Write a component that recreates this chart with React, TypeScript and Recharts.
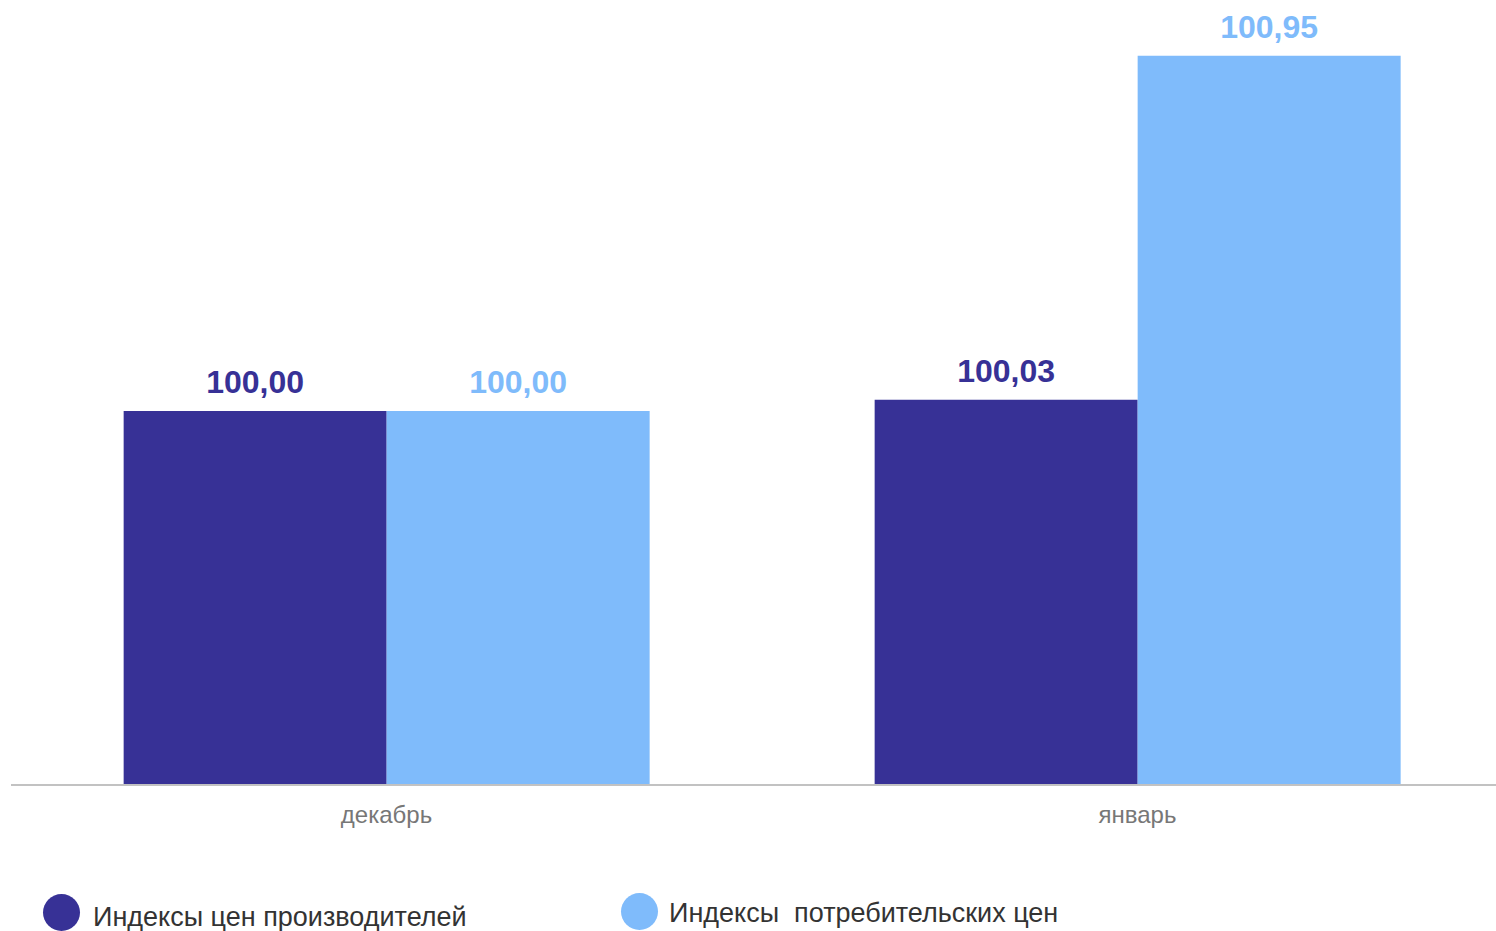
import React from "react";
import { BarChart, Bar, XAxis, YAxis, LabelList } from "recharts";

const months = ["декабрь", "январь"];
const producerIdx = [100.0, 100.03];
const consumerIdx = [100.0, 100.95];
const seriesNames = ["Индексы цен производителей", "Индексы  потребительских цен"];

const DARK = "#373196";
const LIGHT = "#7fbbfb";
const FONT = "'Liberation Sans', Arial, sans-serif";

const data = months.map((m, i) => ({
  month: m,
  producer: producerIdx[i],
  consumer: consumerIdx[i],
}));

const fmt = (v: any) => Number(v).toFixed(2).replace(".", ",");

export default function App() {
  return (
    <div
      style={{
        position: "absolute",
        left: 0,
        top: 0,
        width: 1496,
        height: 931,
        overflow: "hidden",
        background: "#fff",
        fontFamily: FONT,
      }}
    >
      <BarChart
        width={1514}
        height={931}
        data={data}
        margin={{ top: 37, right: 1, left: 11, bottom: 106 }}
        barCategoryGap="15%"
        barGap={0}
        style={{ fontFamily: FONT }}
      >
        <XAxis
          dataKey="month"
          height={40}
          axisLine={{ stroke: "#c2c2c2", strokeWidth: 2 }}
          tickLine={false}
          tickMargin={15}
          tick={{ fill: "#777", fontSize: 24 }}
        />
        <YAxis hide domain={[99, 101]} allowDataOverflow />
        <Bar dataKey="producer" fill={DARK} isAnimationActive={false}>
          <LabelList
            dataKey="producer"
            position="top"
            offset={18}
            formatter={fmt}
            style={{ fill: DARK, fontSize: 32, fontWeight: 700 }}
          />
        </Bar>
        <Bar dataKey="consumer" fill={LIGHT} isAnimationActive={false}>
          <LabelList
            dataKey="consumer"
            position="top"
            offset={18}
            formatter={fmt}
            style={{ fill: LIGHT, fontSize: 32, fontWeight: 700 }}
          />
        </Bar>
      </BarChart>
      {/* legend */}
      <div style={{ position: "absolute", left: 43, top: 894, width: 37, height: 37, borderRadius: "50%", background: DARK }} />
      <div style={{ position: "absolute", left: 93, top: 904, fontSize: 27, color: "#333", whiteSpace: "pre", lineHeight: "27px" }}>
        {seriesNames[0]}
      </div>
      <div style={{ position: "absolute", left: 621, top: 893, width: 37, height: 37, borderRadius: "50%", background: LIGHT }} />
      <div style={{ position: "absolute", left: 669, top: 900, fontSize: 27, color: "#333", whiteSpace: "pre", lineHeight: "27px" }}>
        {seriesNames[1]}
      </div>
    </div>
  );
}
